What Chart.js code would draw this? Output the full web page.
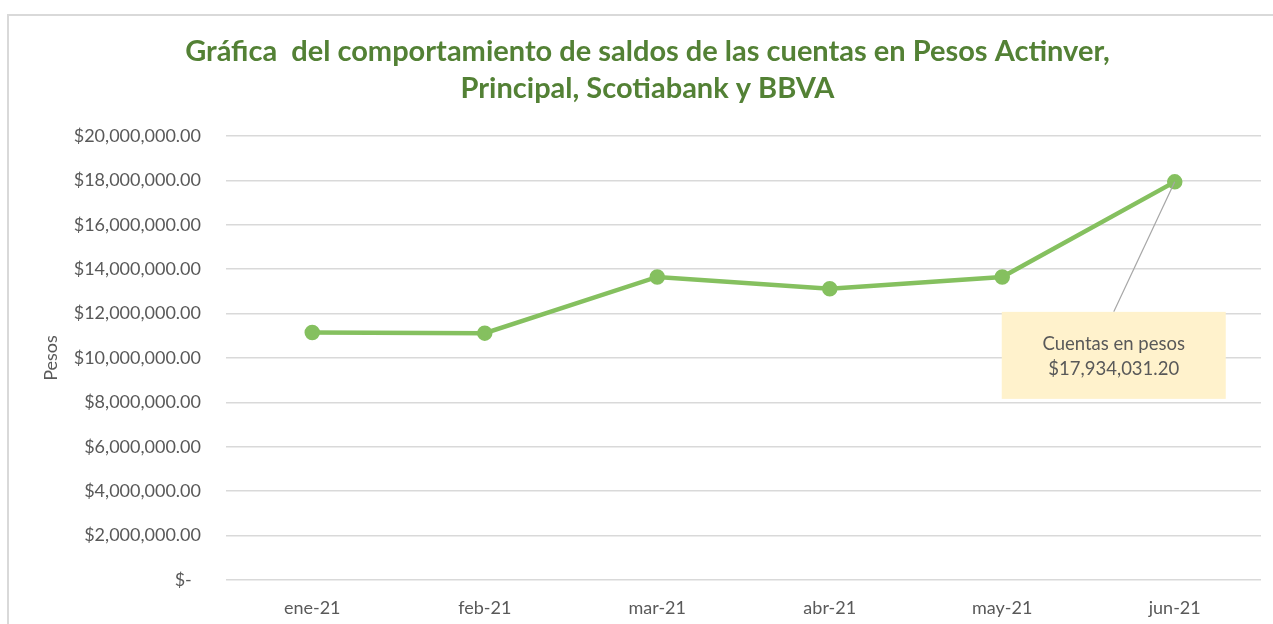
<!DOCTYPE html>
<html>
<head>
<meta charset="utf-8">
<script src="https://cdn.jsdelivr.net/npm/chart.js@4.4.0/dist/chart.umd.min.js"></script>
<style>
  html, body { margin: 0; padding: 0; background: #ffffff; overflow: hidden; }
  #wrap { position: relative; width: 1273px; height: 624px; }
  #frame { position: absolute; left: 7px; top: 14px; right: -4px; bottom: -4px; border: 2px solid #d9d9d9; pointer-events: none; }
  canvas { position: absolute; left: 0; top: 0; }
</style>
</head>
<body>
<div id="wrap">
  <canvas id="c" width="1273" height="624"></canvas>
  <div id="frame"></div>
</div>
<script>
const categories = ['ene-21', 'feb-21', 'mar-21', 'abr-21', 'may-21', 'jun-21'];
const saldos = [11150000, 11120000, 13650000, 13120000, 13650000, 17934031.20];
const titleLines = ['Gráfica  del comportamiento de saldos de las cuentas en Pesos Actinver,', 'Principal, Scotiabank y BBVA'];
const yAxisTitle = 'Pesos';
const calloutLines = ['Cuentas en pesos', '$17,934,031.20'];
const calloutIndex = 5;

const FONT = 'Lato, "Open Sans", sans-serif';
const TEXT = '#595959';

function fmtMoney(v) {
  if (v === 0) return '$-  ';
  return '$' + v.toLocaleString('en-US', { minimumFractionDigits: 2, maximumFractionDigits: 2 });
}

const calloutPlugin = {
  id: 'callout',
  afterDatasetsDraw(chart) {
    const meta = chart.getDatasetMeta(0);
    const pt = meta.data[calloutIndex];
    if (!pt) return;
    const ctx = chart.ctx;
    const bw = 224, bh = 87;
    const cx = pt.x - 61;
    const top = pt.y + 130;
    ctx.save();
    ctx.strokeStyle = '#a6a6a6';
    ctx.lineWidth = 1.2;
    ctx.beginPath();
    ctx.moveTo(cx, top);
    ctx.lineTo(pt.x, pt.y);
    ctx.stroke();
    ctx.fillStyle = '#fff2cc';
    ctx.fillRect(cx - bw / 2, top, bw, bh);
    ctx.fillStyle = TEXT;
    ctx.font = '18.5px ' + FONT;
    ctx.textAlign = 'center';
    ctx.textBaseline = 'middle';
    ctx.fillText(calloutLines[0], cx, top + 32);
    ctx.fillText(calloutLines[1], cx, top + 57);
    ctx.restore();
  }
};

new Chart(document.getElementById('c'), {
  type: 'line',
  data: {
    labels: categories,
    datasets: [{
      label: 'Cuentas en pesos',
      data: saldos,
      borderColor: '#85c05f',
      backgroundColor: '#85c05f',
      borderWidth: 4.5,
      pointRadius: 5.5,
      pointHoverRadius: 5.5,
      pointBackgroundColor: '#85c05f',
      pointBorderColor: '#85c05f',
      tension: 0,
      fill: false
    }]
  },
  options: {
    responsive: false,
    animation: false,
    devicePixelRatio: 1,
    layout: { padding: { left: 34, right: 12, top: 0, bottom: 0 } },
    plugins: {
      legend: { display: false },
      tooltip: { enabled: false },
      title: {
        display: true,
        text: titleLines,
        color: '#538135',
        font: { family: FONT, size: 29, weight: 'bold', lineHeight: 37 / 29 },
        padding: { top: 33.5, bottom: 28.5 }
      }
    },
    scales: {
      x: {
        offset: true,
        grid: { display: false, drawTicks: false },
        border: { display: false },
        ticks: { color: TEXT, font: { family: FONT, size: 18 }, padding: 17 },
        afterFit(s) { s.height = 44; }
      },
      y: {
        min: 0,
        max: 20000000,
        grid: { color: '#d9d9d9', lineWidth: 1.5, drawTicks: false },
        border: { display: false },
        ticks: {
          stepSize: 2000000,
          color: TEXT,
          font: { family: FONT, size: 18 },
          padding: 25,
          callback: (v) => fmtMoney(v)
        },
        title: {
          display: true,
          text: yAxisTitle,
          color: TEXT,
          font: { family: FONT, size: 18 },
          padding: { top: 6, bottom: 0 }
        },
        afterFit(s) { s.width = 192; }
      }
    }
  },
  plugins: [calloutPlugin]
});
</script>
</body>
</html>
